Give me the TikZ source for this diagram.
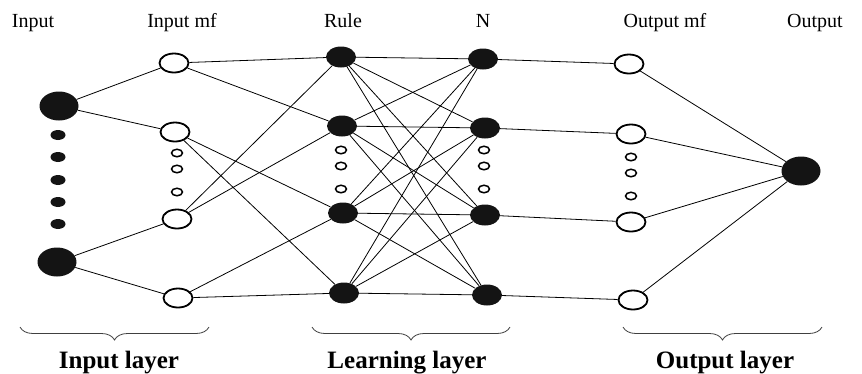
\documentclass[tikz,border=0pt]{standalone}
\usepackage{fontspec}
\setmainfont{Liberation Serif}
\usetikzlibrary{shapes.geometric,decorations.pathreplacing}
\begin{document}
\begin{tikzpicture}[x=1pt,y=-1pt,
  bigdot/.style={ellipse,fill=black!92,inner sep=0pt,minimum width=39pt,minimum height=29pt},
  smalldot/.style={ellipse,fill=black!92,inner sep=0pt,minimum width=15pt,minimum height=10pt},
  fillnode/.style={ellipse,fill=black!92,inner sep=0pt,minimum width=30pt,minimum height=21pt},
  opennode/.style={ellipse,draw=black,line width=1.8pt,fill=white,inner sep=0pt,minimum width=29pt,minimum height=19pt},
  smallopen/.style={ellipse,draw=black,line width=1.5pt,inner sep=0pt,minimum width=11pt,minimum height=7.5pt},
  conn/.style={draw=black,line width=0.8pt},
  toplabel/.style={anchor=base,font=\fontsize{20}{22}\selectfont,inner sep=0pt},
  layerlabel/.style={anchor=base,font=\fontsize{25}{27}\selectfont\bfseries,inner sep=0pt},
  layerbrace/.style={draw=black!75,line width=0.8pt,decorate,decoration={brace,mirror,amplitude=13pt}}
]
\useasboundingbox (0,0) rectangle (862,373);

% top labels
\node[toplabel] (lin) at (33,27) {Input};
\node[toplabel] (linmf) at (182,27) {Input mf};
\node[toplabel] (lrule) at (343,27) {Rule};
\node[toplabel] (ln) at (483,27) {N};
\node[toplabel] (loutmf) at (665,27) {Output mf};
\node[toplabel] (lout) at (815,27) {Output};

% input layer
\node[bigdot] (in1) at (59,106) {};
\node[bigdot] (in2) at (57,262) {};
\node[smalldot] (d1) at (58,135) {};
\node[smalldot] (d2) at (58,157) {};
\node[smalldot] (d3) at (58,180) {};
\node[smalldot] (d4) at (58,202) {};
\node[smalldot] (d5) at (58,224) {};

% input mf
\node[opennode] (mf1) at (174,63) {};
\node[opennode] (mf2) at (175,132) {};
\node[opennode] (mf3) at (177,219) {};
\node[opennode] (mf4) at (178,298) {};
\node[smallopen] (mfs1) at (177,153) {};
\node[smallopen] (mfs2) at (177,169) {};
\node[smallopen] (mfs3) at (177,192) {};

% rule
\node[fillnode] (r1) at (341,57) {};
\node[fillnode] (r2) at (342,126) {};
\node[fillnode] (r3) at (343,213) {};
\node[fillnode] (r4) at (344,293) {};
\node[smallopen] (rs1) at (341,150) {};
\node[smallopen] (rs2) at (341,166) {};
\node[smallopen] (rs3) at (341,189) {};

% N
\node[fillnode] (n1) at (483,59) {};
\node[fillnode] (n2) at (485,128) {};
\node[fillnode] (n3) at (485,215) {};
\node[fillnode] (n4) at (487,295) {};
\node[smallopen] (ns1) at (484,150) {};
\node[smallopen] (ns2) at (484,166) {};
\node[smallopen] (ns3) at (484,189) {};

% output mf
\node[opennode] (om1) at (629,64) {};
\node[opennode] (om2) at (631,134) {};
\node[opennode] (om3) at (631,222) {};
\node[opennode] (om4) at (633,300) {};
\node[smallopen] (oms1) at (631,157) {};
\node[smallopen] (oms2) at (631,173) {};
\node[smallopen] (oms3) at (631,196) {};

% output
\node[bigdot] (out) at (801,171) {};

% connectors
\draw[conn] (in1) -- (mf1);
\draw[conn] (in1) -- (mf2);
\draw[conn] (in2) -- (mf3);
\draw[conn] (in2) -- (mf4);

\draw[conn] (mf1) -- (r1);
\draw[conn] (mf1) -- (r2);
\draw[conn] (mf2) -- (r3);
\draw[conn] (mf2) -- (r4);
\draw[conn] (mf3) -- (r1);
\draw[conn] (mf3) -- (r2);
\draw[conn] (mf4) -- (r3);
\draw[conn] (mf4) -- (r4);

\foreach \a in {r1,r2,r3,r4}{
  \foreach \b in {n1,n2,n3,n4}{
    \draw[conn] (\a) -- (\b);
  }
}

\draw[conn] (n1) -- (om1);
\draw[conn] (n2) -- (om2);
\draw[conn] (n3) -- (om3);
\draw[conn] (n4) -- (om4);

\foreach \a in {om1,om2,om3,om4}{
  \draw[conn] (\a) -- (out);
}

% braces
\coordinate (b1a) at (20,327);
\coordinate (b1b) at (209,327);
\coordinate (b2a) at (312,327);
\coordinate (b2b) at (510,327);
\coordinate (b3a) at (623,327);
\coordinate (b3b) at (822,327);
\draw[layerbrace] (b1a) -- (b1b);
\draw[layerbrace] (b2a) -- (b2b);
\draw[layerbrace] (b3a) -- (b3b);

% layer labels
\node[layerlabel] (linl) at (119,368) {Input layer};
\node[layerlabel] (llrl) at (407,368) {Learning layer};
\node[layerlabel] (loutl) at (725,368) {Output layer};
\end{tikzpicture}
\end{document}
